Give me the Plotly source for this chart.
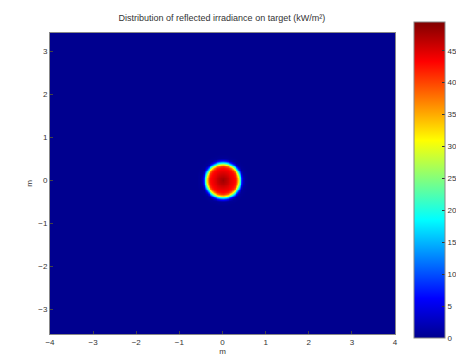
import numpy as np
import plotly.graph_objects as go

# Radial irradiance profile of the reflected spot
radius_m = [0.00, 0.10, 0.20, 0.28, 0.32, 0.35, 0.38, 0.41, 0.44, 0.47, 0.50, 0.60, 6.00]
irradiance_kw = [48.0, 46.5, 44.5, 43.0, 41.0, 36.0, 28.0, 18.0, 9.0, 3.0, 0.5, 0.0, 0.0]
spot_center = [0.0, 0.0]

x_ticks = [-4, -3, -2, -1, 0, 1, 2, 3, 4]
y_ticks = [-3, -2, -1, 0, 1, 2, 3]
cbar_ticks = [0, 5, 10, 15, 20, 25, 30, 35, 40, 45]

# grid table built from the profile
xs = np.arange(-4.0, 4.0001, 0.04)
ys = np.arange(-3.6, 3.4801, 0.04)
XX, YY = np.meshgrid(xs, ys)
R = np.hypot(XX - spot_center[0], YY - spot_center[1])
Z = np.interp(R, radius_m, irradiance_kw)

jet = [
    [0.0, "rgb(0,0,143)"],
    [0.125, "rgb(0,0,255)"],
    [0.375, "rgb(0,255,255)"],
    [0.625, "rgb(255,255,0)"],
    [0.875, "rgb(255,0,0)"],
    [1.0, "rgb(128,0,0)"],
]

font = dict(family="Liberation Sans, Arial, sans-serif", size=8, color="#333")

fig = go.Figure(
    go.Heatmap(
        x=xs, y=ys, z=Z, colorscale=jet, zmin=0, zmax=49.5, zsmooth="best",
        colorbar=dict(
            x=1.055, xanchor="left", xpad=0, thickness=31, thicknessmode="pixels",
            y=0.5116, yanchor="middle", len=316, lenmode="pixels", ypad=0,
            tickvals=cbar_ticks, ticks="inside", ticklen=3, tickcolor="#333",
            outlinewidth=1, outlinecolor="#888", tickfont=font,
        ),
    )
)

fig.update_layout(
    width=456, height=351,
    margin=dict(l=42, r=69, t=25, b=25, autoexpand=False),
    paper_bgcolor="white", plot_bgcolor="white",
    font=font,
    title=dict(text="Distribution of reflected irradiance on target (kW/m²)",
               x=0.469, xanchor="center", y=0.9715, yanchor="middle",
               font=dict(family="Liberation Sans, Arial, sans-serif", size=9, color="#333")),
    xaxis=dict(range=[-4, 4], tickvals=x_ticks, ticks="inside", ticklen=3, automargin=False,
               showgrid=False, zeroline=False, showline=True, linecolor="#888", mirror=True,
               title=dict(text="m", standoff=1, font=font)),
    yaxis=dict(range=[-3.58, 3.42], tickvals=y_ticks, ticks="inside", ticklen=3, automargin=False,
               showgrid=False, zeroline=False, showline=True, linecolor="#888", mirror=True,
               title=dict(text="m", standoff=4, font=font)),
)

fig.write_html("out.html")
